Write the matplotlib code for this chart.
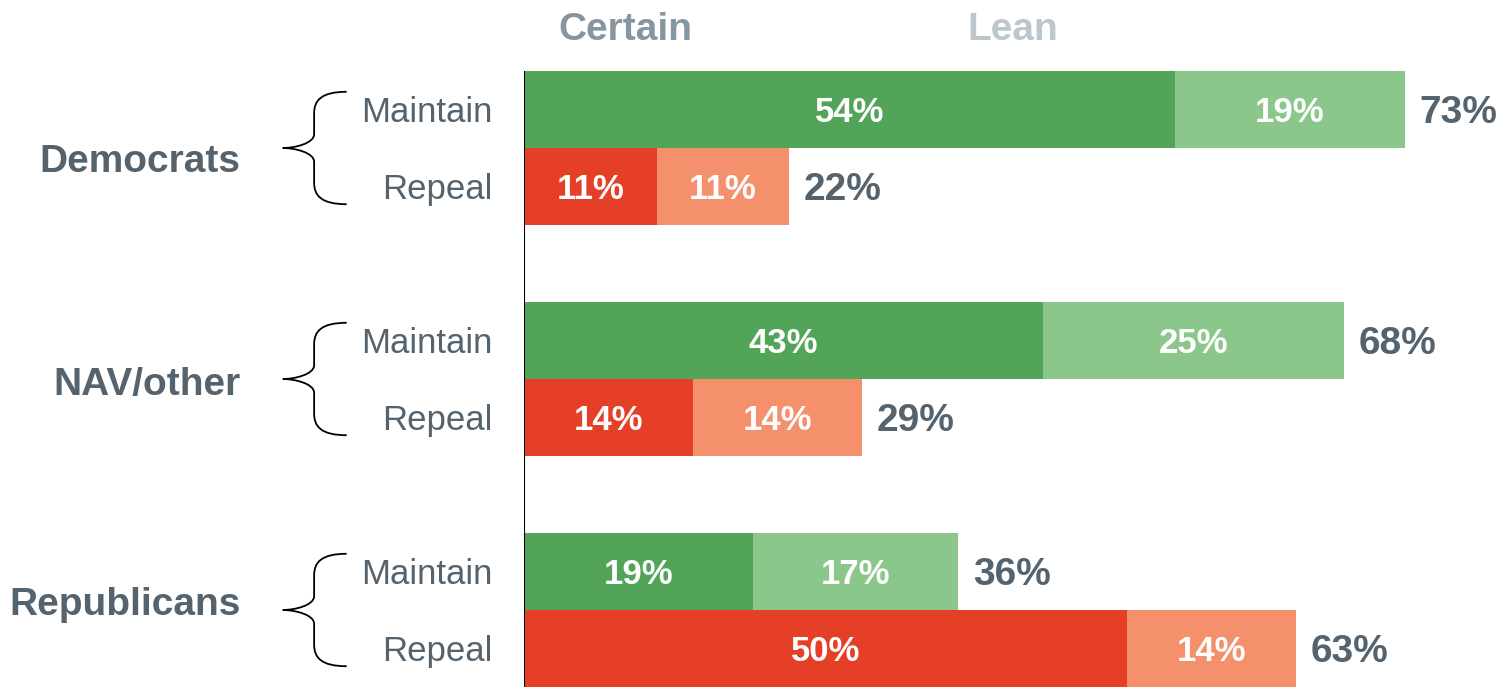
import matplotlib
matplotlib.use("Agg")
import matplotlib.pyplot as plt
from matplotlib.path import Path
from matplotlib.patches import PathPatch

# --- Data ---
groups = ["Democrats", "NAV/other", "Republicans"]
rows = ["Maintain", "Repeal"]
certain = [[54, 11], [43, 14], [19, 50]]
lean = [[19, 11], [25, 14], [17, 14]]
totals = [[73, 22], [68, 29], [36, 63]]

# --- Style ---
GREEN_DARK = "#52a458"
GREEN_LIGHT = "#8bc68a"
RED_DARK = "#e63f27"
RED_LIGHT = "#f5906d"
TEXT = "#55636e"
FONT = "Liberation Sans"
GROUP_NUDGE = [0.18, 0.08, -0.07]  # hand-placed group labels in the original

plt.rcParams["font.family"] = [FONT, "DejaVu Sans"]

fig = plt.figure(figsize=(15.01, 6.87), dpi=100)
ax = fig.add_axes([524 / 1501, 0, 1 - 524 / 1501, (687 - 71) / 687])
ax.set_xlim(0, 81)
ax.set_ylim(7.5, -0.5)
ax.axis("off")
ax.axvline(0, color="black", lw=1.5, zorder=5)


def brace(ax, m):
    xe, xv, xt = -14.7, -17.4, -20.0
    verts = [
        (xe, m - 0.73),
        (xv + 0.6, m - 0.73), (xv, m - 0.62), (xv, m - 0.45),
        (xv, m - 0.18),
        (xv, m - 0.06), (xt + 1.0, m), (xt, m),
        (xt + 1.0, m), (xv, m + 0.06), (xv, m + 0.18),
        (xv, m + 0.45),
        (xv, m + 0.62), (xv + 0.6, m + 0.73), (xe, m + 0.73),
    ]
    codes = [Path.MOVETO,
             Path.CURVE4, Path.CURVE4, Path.CURVE4,
             Path.LINETO,
             Path.CURVE4, Path.CURVE4, Path.CURVE4,
             Path.CURVE4, Path.CURVE4, Path.CURVE4,
             Path.LINETO,
             Path.CURVE4, Path.CURVE4, Path.CURVE4]
    ax.add_patch(PathPatch(Path(verts, codes), fill=False, lw=1.3,
                           color="black", clip_on=False))


for gi, group in enumerate(groups):
    base = gi * 3
    for ri, row in enumerate(rows):
        y = base + ri
        ty = y + 0.04
        c, l, t = certain[gi][ri], lean[gi][ri], totals[gi][ri]
        dark, light = (GREEN_DARK, GREEN_LIGHT) if ri == 0 else (RED_DARK, RED_LIGHT)
        ax.barh(y, c, height=1.0, color=dark, linewidth=0)
        ax.barh(y, l, left=c, height=1.0, color=light, linewidth=0)
        ax.text(c / 2, ty, f"{c}%", ha="center", va="center", color="white",
                fontsize=25, fontweight="bold")
        ax.text(c + l / 2, ty, f"{l}%", ha="center", va="center", color="white",
                fontsize=25, fontweight="bold")
        ax.text(c + l + 1.2, ty, f"{t}%", ha="left", va="center", color=TEXT,
                fontsize=28, fontweight="bold")
        ax.text(-2.6, ty, row, ha="right", va="center", color=TEXT,
                fontsize=25, clip_on=False)
    m = base + 0.5
    brace(ax, m)
    ax.text(-23.5, m + GROUP_NUDGE[gi], group, ha="right", va="center",
            color=TEXT, fontsize=28, fontweight="bold", clip_on=False)

# column headers
ax.text(8.4, -1.03, "Certain", ha="center", va="center", color="#8696a1",
        fontsize=28, fontweight="bold", clip_on=False)
ax.text(40.5, -1.03, "Lean", ha="center", va="center", color="#bcc6cd",
        fontsize=28, fontweight="bold", clip_on=False)

fig.savefig("out.png", dpi=100)
